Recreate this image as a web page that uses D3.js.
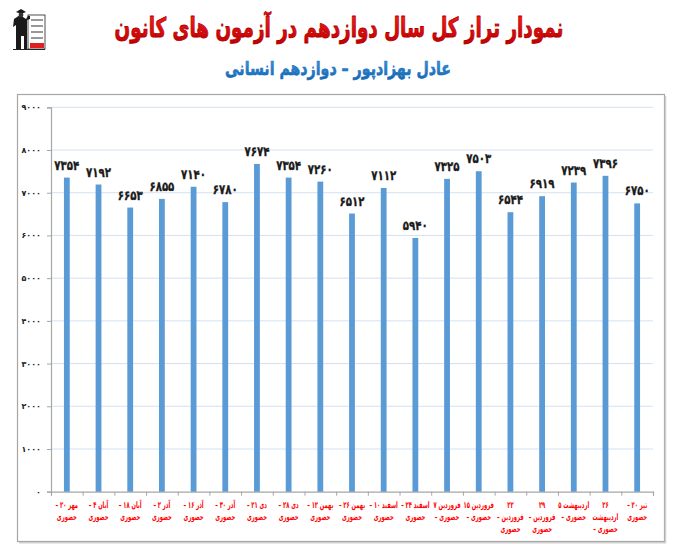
<!DOCTYPE html>
<html><head><meta charset="utf-8">
<script src="https://cdn.jsdelivr.net/npm/d3@7/dist/d3.min.js"></script>
<style>
html,body{margin:0;padding:0;background:#fff;}
svg{display:block;font-family:"DejaVu Sans",sans-serif;}
</style></head>
<body>
<svg id="chart" width="674" height="555"></svg>
<script>
// ---- data ----
const title = "نمودار تراز کل سال دوازدهم در آزمون های کانون";
const subtitle = "عادل بهزادپور – دوازدهم انسانی";
const categories = [
  ["– ۲۰ مهر", "حضوری"],
  ["– ۴ آبان", "حضوری"],
  ["– ۱۸ آبان", "حضوری"],
  ["– ۲ آذر", "حضوری"],
  ["– ۱۶ آذر", "حضوری"],
  ["– ۳۰ آذر", "حضوری"],
  ["– ۲۱ دی", "حضوری"],
  ["– ۲۸ دی", "حضوری"],
  ["– ۱۲ بهمن", "حضوری"],
  ["– ۲۶ بهمن", "حضوری"],
  ["– ۱۰ اسفند", "حضوری"],
  ["– ۲۴ اسفند", "حضوری"],
  ["۷ فروردین", "– حضوری"],
  ["۱۵ فروردین", "– حضوری"],
  ["۲۲", "– فروردین", "حضوری"],
  ["۲۹", "– فروردین", "حضوری"],
  ["۵ اردیبهشت", "– حضوری"],
  ["۲۶", "اردیبهشت", "– حضوری"],
  ["– ۲۰ تیر", "حضوری"]
];
const values = [7354, 7192, 6653, 6855, 7140, 6780, 7674, 7354, 7260, 6512, 7112, 5940, 7325, 7503, 6544, 6919, 7239, 7396, 6750];
const yTicks = [0, 1000, 2000, 3000, 4000, 5000, 6000, 7000, 8000, 9000];

const faDigits = "۰۱۲۳۴۵۶۷۸۹";
const toFa = v => String(v).replace(/[0-9]/g, d => faDigits[+d]);

// ---- layout ----
const svg = d3.select("#chart");
const pLeft = 51, pRight = 653, pTop = 107.3, pBottom = 491.7;

const defs = svg.append("defs");
const gT = defs.append("linearGradient").attr("id","gTitle").attr("x1",0).attr("y1",0).attr("x2",0).attr("y2",1);
gT.append("stop").attr("offset","0%").attr("stop-color","#ff2020");
gT.append("stop").attr("offset","100%").attr("stop-color","#c00000");
const gS = defs.append("linearGradient").attr("id","gSub").attr("x1",0).attr("y1",0).attr("x2",0).attr("y2",1);
gS.append("stop").attr("offset","0%").attr("stop-color","#3a9ae0");
gS.append("stop").attr("offset","100%").attr("stop-color","#1565b0");

// horizontal squeeze of a text element around its anchor x
function squeeze(sel, cx, s) {
  sel.attr("transform", `translate(${cx},0) scale(${s},1) translate(${-cx},0)`);
}

// outer chart frame
svg.append("rect").attr("x",17.5).attr("y",94.5).attr("width",647).attr("height",447)
  .attr("fill","#fff").attr("stroke","#a6a6a6").attr("stroke-width",1.2);
svg.append("line").attr("x1",665.5).attr("x2",665.5).attr("y1",96).attr("y2",543)
  .attr("stroke","#d0d0d0").attr("stroke-width",1.5);
svg.append("line").attr("x1",19).attr("x2",666).attr("y1",542.8).attr("y2",542.8)
  .attr("stroke","#d0d0d0").attr("stroke-width",1.5);

// title
const tt = svg.append("text").attr("x",339).attr("y",37).attr("text-anchor","middle")
  .attr("direction","rtl").attr("font-size",27).attr("font-weight","bold")
  .attr("fill","url(#gTitle)").attr("stroke","#b00000").attr("stroke-width",0.9)
  .attr("stroke-linejoin","round").text(title);
squeeze(tt, 339, 449 / tt.node().getComputedTextLength());
const st = svg.append("text").attr("x",338).attr("y",75).attr("text-anchor","middle")
  .attr("direction","rtl").attr("font-size",19).attr("font-weight","bold")
  .attr("fill","url(#gSub)").attr("stroke","#1a6fbf").attr("stroke-width",0.6)
  .attr("stroke-linejoin","round").text(subtitle);
squeeze(st, 338, 226 / st.node().getComputedTextLength());

// logo (simple emblem)
const logo = svg.append("g");
logo.append("rect").attr("x",28).attr("y",15).attr("width",17).attr("height",34).attr("fill","#fff").attr("stroke","#222").attr("stroke-width",0.8);
logo.append("path").attr("d","M14,19 L20,15 L26,19 L28,16 L30,16 L30,19 L27,20 L27,49 L24,49 L24,36 L21,36 L21,49 L16,49 L16,25 L13,27 Z").attr("fill","#1a1a1a");
logo.append("path").attr("d","M16,12 L21,9 L26,12 L21,14 Z").attr("fill","#1a1a1a");
logo.append("circle").attr("cx",21).attr("cy",15).attr("r",2.4).attr("fill","#333");
[20,26,32,38].forEach(yy => logo.append("line").attr("x1",31).attr("x2",43).attr("y1",yy).attr("y2",yy).attr("stroke","#555").attr("stroke-width",1.2));
logo.append("rect").attr("x",30).attr("y",43).attr("width",14).attr("height",5).attr("fill","#e02020");
logo.append("line").attr("x1",13).attr("x2",45).attr("y1",49.5).attr("y2",49.5).attr("stroke","#222").attr("stroke-width",1);

// scales
const x = d3.scaleBand().domain(d3.range(values.length)).range([pLeft, pRight]).padding(0);
const xb = d3.scaleLinear().domain([0, values.length]).range([pLeft, pRight]);
const y = d3.scaleLinear().domain([0, 9000]).range([pBottom, pTop]);
const cxOf = i => x(i) + x.bandwidth() / 2;

// gridlines
svg.append("g").selectAll("line").data(yTicks.filter(d => d > 0)).join("line")
  .attr("x1", pLeft).attr("x2", pRight).attr("y1", d => y(d)).attr("y2", d => y(d))
  .attr("stroke", "#d4e1f2").attr("stroke-width", 1);

// y axis
const ya = svg.append("g").attr("transform",`translate(${pLeft},0)`)
  .call(d3.axisLeft(y).tickValues(yTicks).tickFormat(toFa).tickSize(4).tickPadding(6));
ya.select(".domain").attr("stroke","#a6a6a6").attr("stroke-width",1.2);
ya.selectAll(".tick line").attr("stroke","#a6a6a6");
ya.selectAll(".tick text").attr("font-size",8).attr("font-weight","bold").attr("fill","#222")
  .attr("font-family","DejaVu Sans");

// x axis (boundary ticks)
const xa = svg.append("g").attr("transform",`translate(0,${pBottom})`)
  .call(d3.axisBottom(xb).tickValues(d3.range(values.length + 1)).tickFormat("").tickSize(4));
xa.select(".domain").attr("stroke","#a6a6a6").attr("stroke-width",1.2);
xa.selectAll(".tick line").attr("stroke","#a6a6a6");

// bars
const bw = 5.8;
svg.append("g").selectAll("rect").data(values).join("rect")
  .attr("x", (d,i) => cxOf(i) - bw/2)
  .attr("y", d => y(d))
  .attr("width", bw)
  .attr("height", d => pBottom - y(d))
  .attr("fill", "#5b9bd5");

// value labels
const vl = svg.append("g").selectAll("text").data(values).join("text")
  .attr("x", (d,i) => cxOf(i))
  .attr("y", d => y(d) - 8)
  .attr("text-anchor","middle")
  .attr("font-size",13).attr("font-weight","bold").attr("fill","#1a1a1a")
  .attr("stroke","#1a1a1a").attr("stroke-width",0.3)
  .text(d => toFa(d));
const vScale = 25 / vl.node().getComputedTextLength();
vl.each(function(d, i) { squeeze(d3.select(this), cxOf(i), vScale); });

// category labels (one text per line, left-to-right visual order as in the chart)
const lineItems = [];
categories.forEach((lines, i) => lines.forEach((ln, k) => lineItems.push({i, k, ln})));
const cl = svg.append("g").selectAll("text").data(lineItems).join("text")
  .attr("x", d => cxOf(d.i))
  .attr("y", d => 508 + d.k * 12)
  .attr("text-anchor","middle")
  .attr("direction","ltr")
  .attr("font-size",9).attr("font-weight","bold").attr("fill","#ff0000")
  .text(d => "\u2066" + d.ln + "\u2069");
const ref = cl.filter(d => d.ln === "حضوری").node();
const cScale = 20 / ref.getComputedTextLength();
cl.each(function(d) { squeeze(d3.select(this), cxOf(d.i), cScale); });
</script>
</body></html>
